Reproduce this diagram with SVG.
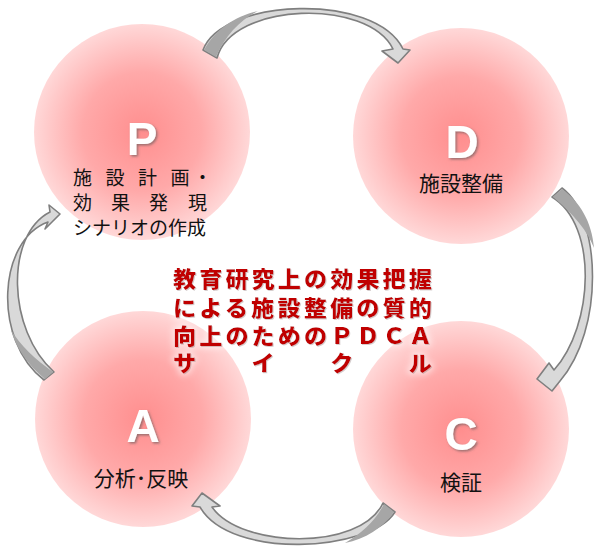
<svg xmlns="http://www.w3.org/2000/svg" width="595" height="547" viewBox="0 0 595 547">
<defs>
<radialGradient id="pink" cx="50%" cy="50%" r="50%">
<stop offset="0" stop-color="#ff8e8e"/>
<stop offset="0.55" stop-color="#ffa9a9"/>
<stop offset="1" stop-color="#ffd8d8"/>
</radialGradient>
<filter id="shadow" x="-30%" y="-30%" width="160%" height="160%">
<feDropShadow dx="1.5" dy="1.5" stdDeviation="1" flood-color="#555" flood-opacity="0.6"/>
</filter>
<filter id="glow" x="-10%" y="-10%" width="120%" height="120%">
<feMorphology in="SourceAlpha" operator="dilate" radius="2" result="d"/>
<feGaussianBlur in="d" stdDeviation="3" result="b"/>
<feFlood flood-color="#fff" flood-opacity="0.6"/>
<feComposite in2="b" operator="in" result="g"/>
<feDropShadow in="SourceGraphic" dx="1" dy="1" stdDeviation="0.6" flood-color="#600" flood-opacity="0.35" result="s"/>
<feMerge><feMergeNode in="g"/><feMergeNode in="s"/></feMerge>
</filter>
</defs>
<style>
.circ{fill:url(#pink)}
.big{font-family:"Liberation Sans",Arial,sans-serif;font-weight:bold;font-size:46px;fill:#fff;text-anchor:middle}
.lbl{font-family:"Noto Sans CJK JP",sans-serif;font-size:21px;fill:#111}
.plbl{font-family:"Noto Sans CJK JP",sans-serif;font-size:19px;fill:#111}
.red{font-family:"Noto Sans CJK JP",sans-serif;font-weight:900;font-size:22px;fill:#c00000;letter-spacing:3px}
.arrow{fill:#d9d9d9;stroke:#7f7f7f;stroke-width:1.6;stroke-linejoin:round}
.dark{fill:#a6a6a6}
</style>

<g id="node-P">
<circle class="circ" cx="142" cy="132" r="108"/>
<text class="big" x="142" y="155" filter="url(#shadow)">P</text>
<text class="plbl" x="73 105.5 138 170.5 193" y="185">施設計画・</text>
<text class="plbl" x="73 111 149 188" y="210">効果発現</text>
<text class="plbl" x="73" y="235">シナリオの作成</text>
</g>

<g id="node-D">
<circle class="circ" cx="461" cy="136" r="108"/>
<text class="big" x="462" y="158" filter="url(#shadow)">D</text>
<text class="lbl" x="461" y="191" text-anchor="middle">施設整備</text>
</g>

<g id="node-A">
<circle class="circ" cx="143" cy="419" r="108"/>
<text class="big" x="143" y="442" filter="url(#shadow)">A</text>
<text class="lbl" x="141" y="486" text-anchor="middle">分析･反映</text>
</g>

<g id="node-C">
<circle class="circ" cx="461" cy="429" r="108"/>
<text class="big" x="461" y="450" filter="url(#shadow)">C</text>
<text class="lbl" x="461" y="490" text-anchor="middle">検証</text>
</g>

<g id="connectors">
<path class="arrow" d="M203,50 C222,-2 375,-8 403,49 L410,50 L398,63 L382,51 L393,49 C368,-2 232,2 217,58 Z"/>
<path class="dark" d="M204,50 C216,28 236,16 258,11 C240,20 225,36 216,57 Z"/>
<path class="arrow" d="M562,188 C602,218 604,330 560,381 L552,391 L537,379 L549,363 L554,370 C594,325 598,225 552,197 Z"/>
<path class="dark" d="M562,189 C580,202 592,222 594,248 C588,232 574,214 553,197 Z"/>
<path class="arrow" d="M44,380 C-8,340 -2,240 48,222 L45,229 L60,214 L49,205 L50,212 C5,235 7,330 54,372 Z"/>
<path class="dark" d="M45,379 C28,365 16,348 11,330 C20,345 36,360 53,372 Z"/>
<path class="arrow" d="M395,512 C370,552 230,560 200,507 L192,506 L202,493 L220,506 L212,507 C240,548 360,552 383,503 Z"/>
<path class="dark" d="M394,512 C383,528 365,539 345,543 C362,533 376,520 384,504 Z"/>
</g>

<g id="center-text" filter="url(#glow)">
<text class="red" x="173" y="287" textLength="262" lengthAdjust="spacingAndGlyphs">教育研究上の効果把握</text>
<text class="red" x="173" y="316" textLength="262" lengthAdjust="spacingAndGlyphs">による施設整備の質的</text>
<text class="red" x="173" y="344" textLength="262" lengthAdjust="spacingAndGlyphs">向上のためのＰＤＣＡ</text>
<text class="red" x="173" y="371" textLength="262" lengthAdjust="spacingAndGlyphs">サ　　イ　　ク　　ル</text>
</g>
</svg>
